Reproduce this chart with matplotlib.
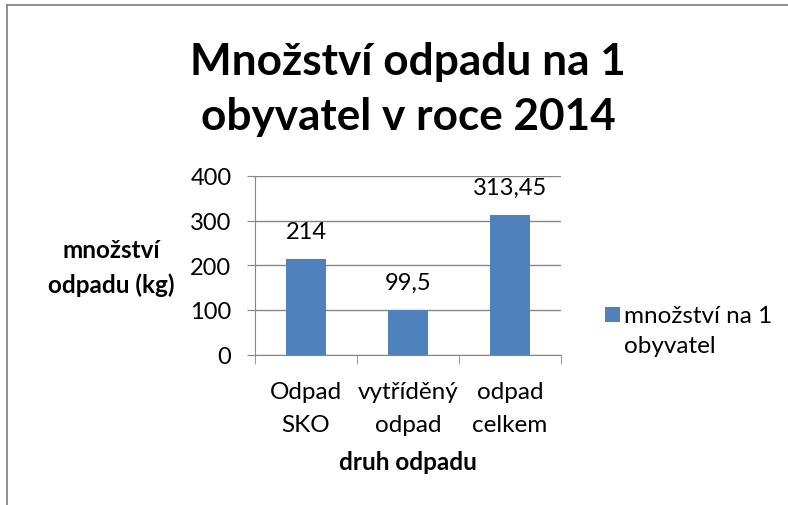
import matplotlib
matplotlib.use("Agg")
import matplotlib.pyplot as plt
import matplotlib.transforms as mtransforms
from matplotlib.patches import Rectangle
from matplotlib.lines import Line2D

categories = ["Odpad\nSKO", "vytříděný\nodpad", "odpad\ncelkem"]
values = [214, 99.5, 313.45]
value_labels = ["214", "99,5", "313,45"]
yticks = [0, 100, 200, 300, 400]
title_lines = ["Množství odpadu na 1", "obyvatel v roce 2014"]
xlabel = "druh odpadu"
ylabel_lines = ["množství", "odpadu (kg)"]
legend_lines = ["množství na 1", "obyvatel"]

plt.rcParams['font.family'] = ['Lato', 'DejaVu Sans']

W, H = 788, 506
fig = plt.figure(figsize=(W / 100, H / 100), dpi=100)
fig.patch.set_facecolor("white")

def fx(px):
    return px / W

def fy(py):
    return 1 - py / H

# chart frame (top and left edges visible)
fig.add_artist(Line2D([fx(7), fx(7)], [fy(6), 0], transform=fig.transFigure,
                      color="#868686", lw=1.3))
fig.add_artist(Line2D([fx(7), 1], [fy(6), fy(6)], transform=fig.transFigure,
                      color="#868686", lw=1.3))

ax = fig.add_axes([fx(255), fy(355.5), (561 - 255) / W, (355.5 - 177) / H])
bar_color = "#4F81BD"
grid_color = "#868686"
x = list(range(len(categories)))
ax.bar(x, values, width=0.4, color=bar_color, zorder=3)
ax.set_xlim(-0.5, len(categories) - 0.5)
ax.set_ylim(0, 400)
ax.set_yticks(yticks)
ax.set_yticklabels([str(v) for v in yticks], fontsize=17)
ax.yaxis.grid(True, color=grid_color, lw=1)
ax.set_axisbelow(True)
ax.tick_params(axis="y", length=6, color=grid_color, pad=11)
for s in ["top", "right"]:
    ax.spines[s].set_visible(False)
ax.spines["left"].set_color(grid_color)
ax.spines["bottom"].set_color(grid_color)

# category boundaries as minor ticks; category names drawn per line
ax.set_xticks(x)
ax.set_xticklabels([])
ax.tick_params(axis="x", length=0)
ax.set_xticks([-0.5, 0.5, 1.5, 2.5], minor=True)
ax.tick_params(axis="x", which="minor", length=6.5, color=grid_color)

blend = mtransforms.blended_transform_factory(ax.transData, fig.transFigure)
for xi, cat in zip(x, categories):
    for yb, line in zip([399, 432], cat.split("\n")):
        ax.text(xi, fy(yb), line, transform=blend, fontsize=17.5,
                ha="center", va="baseline")

for xi, v, lab in zip(x, values, value_labels):
    ax.annotate(lab, (xi, v), xytext=(0, 20), textcoords="offset points",
                ha="center", va="center", fontsize=17)

fig.text(fx(408), fy(470), xlabel, fontsize=17.5, fontweight="bold",
         ha="center", va="baseline")

for yb, line in zip([258, 293], ylabel_lines):
    fig.text(fx(111), fy(yb), line, fontsize=17.5, fontweight="bold",
             ha="center", va="baseline")

for yb, line in zip([75, 130], title_lines):
    fig.text(fx(408), fy(yb), line, fontsize=31.8, fontweight="bold",
             ha="center", va="baseline")

# legend
fig.add_artist(Rectangle((fx(605), fy(323)), 15 / W, 15 / H, transform=fig.transFigure,
                         facecolor=bar_color, edgecolor="none"))
for yb, line in zip([323, 353], legend_lines):
    fig.text(fx(624), fy(yb), line, fontsize=17.5, ha="left", va="baseline")

fig.savefig("out.png", dpi=100)
